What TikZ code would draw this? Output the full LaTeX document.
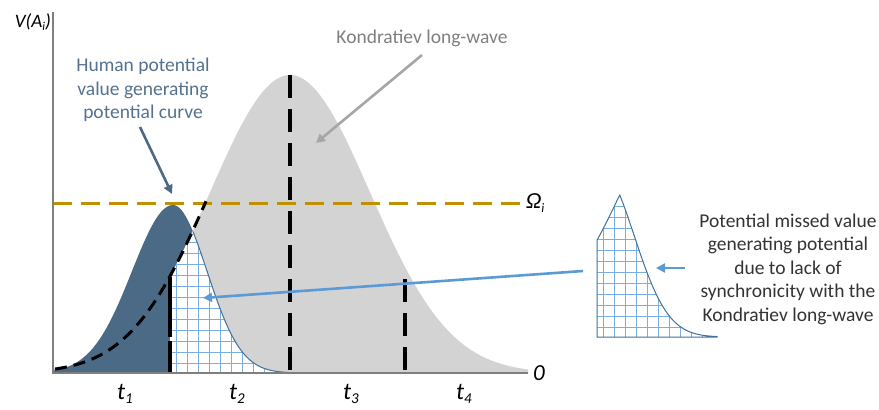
\documentclass[tikz,border=0pt]{standalone}
\usepackage{fontspec}
\setmainfont{Carlito}
\usetikzlibrary{arrows.meta}
\definecolor{kgrey}{HTML}{D3D3D3}
\definecolor{hblue}{HTML}{4A6A86}
\definecolor{htext}{HTML}{54728F}
\definecolor{gridblue}{HTML}{7AAEE0}
\definecolor{outblue}{HTML}{41719C}
\definecolor{arrblue}{HTML}{5B9BD5}
\definecolor{gold}{HTML}{BF9000}
\definecolor{axisgrey}{HTML}{7F7F7F}
\definecolor{ktext}{HTML}{7F7F7F}
\definecolor{karrow}{HTML}{A6A6A6}
\tikzset{
  declare function={
    K(\x)=298*exp(-((\x-290)/80)^2/2);
    H(\x)=(\x<173)*168*exp(-((\x-173)/41)^2/2)+(\x>=173)*168*exp(-((\x-173)/34)^2/2);
  },
  blackdash/.style={line width=3.2pt, dash pattern=on 23pt off 11pt},
  curvedash/.style={line width=3pt, dash pattern=on 12pt off 7pt},
  lbl/.style={font=\fontsize{19.5}{23.5}\selectfont, align=center},
  tlabel/.style={font=\fontsize{24}{26}\selectfont\itshape},
}
\newcommand{\hatchshape}{(170,373) -- plot[domain=170:290, samples=80] (\x,{373-min(K(\x),H(\x))}) -- (290,373) -- cycle}
\newcommand{\hatchoutline}{plot[domain=193:292, samples=60] (\x,{373-H(\x)}) -- (170,373)}
\begin{document}
\begin{tikzpicture}[x=1pt,y=-1pt]
\useasboundingbox (0,0) rectangle (879,410);
% Kondratiev wave
\fill[kgrey] (53,373) -- plot[domain=53:528, samples=150] (\x,{373-K(\x)}) -- (528,373) -- cycle;
% Human potential curve
\fill[hblue] (53,373) -- plot[domain=53:292, samples=120] (\x,{373-H(\x)}) -- (292,373) -- cycle;
% hatched region
\fill[white] \hatchshape;
\begin{scope}
  \clip \hatchshape;
  \draw[gridblue, line width=1pt, step=11pt] (160,180) grid (300,380);
\end{scope}
\draw[outblue, line width=1pt] \hatchoutline;
% inset copy
\begin{scope}[shift={(427,-36)}]
  \fill[white] \hatchshape;
  \begin{scope}
    \clip \hatchshape;
    \draw[gridblue, line width=1pt, step=11pt] (160,180) grid (300,380);
  \end{scope}
  \draw[outblue, line width=1pt] \hatchshape;
\end{scope}
% Omega line
\draw[gold, line width=3pt, dash pattern=on 19pt off 9pt] (53,203) -- (522,203);
% dashed Kondratiev rising part
\draw[black, curvedash] plot[domain=55:206, samples=60] (\x,{373-K(\x)});
% vertical dashed lines
\draw[black, line width=3.2pt, dash pattern=on 60pt off 4pt] (170,277) -- (170,373);
\draw[black, blackdash] (290,75) -- (290,373);
\draw[black, blackdash] (405,279) -- (405,373);
% axes
\draw[axisgrey, line width=1.6pt] (53,12) -- (53,373) -- (528,373);
% labels
\node[anchor=east, font=\fontsize{19}{22}\selectfont\itshape, inner sep=0pt] (vlab) at (51,22) {V(A\raisebox{-0.35ex}{\fontsize{12}{12}\selectfont i})};
\node[anchor=west, font=\fontsize{23}{26}\selectfont\itshape, inner sep=0pt] (zero) at (533,373) {0};
\node[anchor=west, font=\fontsize{23}{26}\selectfont\itshape, inner sep=0pt] (omega) at (526,203) {Ω\raisebox{-0.35ex}{\fontsize{13}{13}\selectfont i}};
\node[tlabel] (t1) at (125,394) {t\raisebox{-0.4ex}{\fontsize{15}{15}\selectfont 1}};
\node[tlabel] (t2) at (237,394) {t\raisebox{-0.4ex}{\fontsize{15}{15}\selectfont 2}};
\node[tlabel] (t3) at (351,394) {t\raisebox{-0.4ex}{\fontsize{15}{15}\selectfont 3}};
\node[tlabel] (t4) at (464,394) {t\raisebox{-0.4ex}{\fontsize{15}{15}\selectfont 4}};
\node[lbl, text=htext] (human) at (143,90) {Human potential\\value generating\\potential curve};
\node[lbl, text=ktext] (kond) at (422,38) {Kondratiev long-wave};
\node[lbl, text=black!80] (missed) at (788,269) {Potential missed value\\generating potential\\due to lack of\\synchronicity with the\\Kondratiev long-wave};
% arrows
\coordinate (hs) at (140,127);
\coordinate (he) at (172,194);
\coordinate (ks) at (422,55);
\coordinate (ke) at (316,143);
\coordinate (bs) at (583,271);
\coordinate (be) at (203,298);
\coordinate (ss) at (685,268);
\coordinate (se) at (656,268);
\draw[hblue, line width=2.6pt, -{Triangle[length=9pt,width=9pt]}] (hs) -- (he);
\draw[karrow, line width=2.6pt, -{Triangle[length=9pt,width=9pt]}] (ks) -- (ke);
\draw[arrblue, line width=2.6pt, -{Triangle[length=9pt,width=9pt]}] (bs) -- (be);
\draw[arrblue, line width=2.6pt, -{Triangle[length=9pt,width=9pt]}] (ss) -- (se);
\end{tikzpicture}
\end{document}
